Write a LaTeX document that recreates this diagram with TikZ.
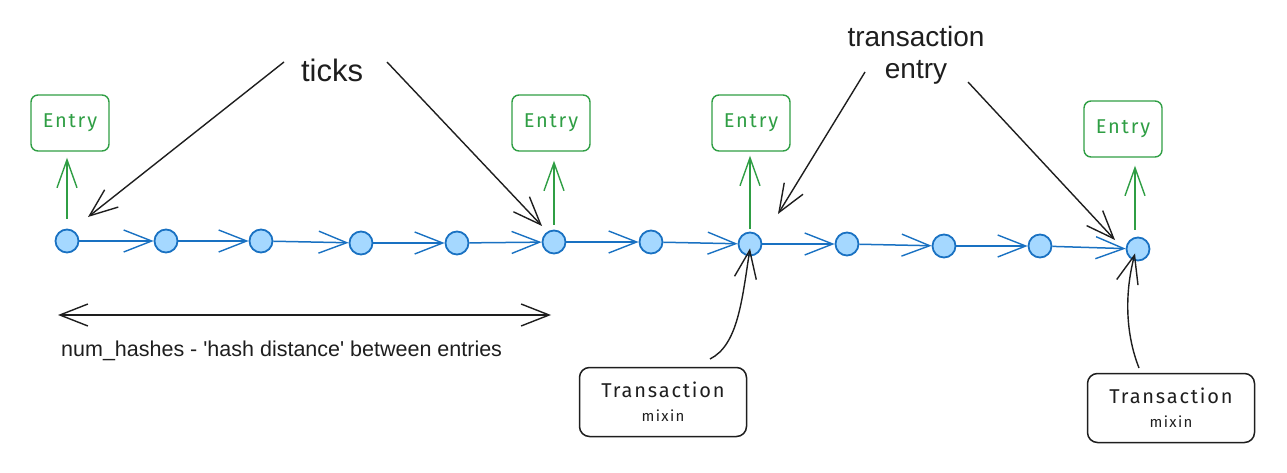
\documentclass[tikz,border=0pt]{standalone}
\usepackage{fontspec}
\setmainfont{Liberation Sans}
\newfontfamily\handfont{Fira Sans}[LetterSpace=9]
\usetikzlibrary{arrows.meta}
\definecolor{cblue}{HTML}{1971C2}
\definecolor{cfill}{HTML}{A5D8FF}
\definecolor{cgreen}{HTML}{2F9E44}
\definecolor{cblack}{HTML}{1E1E1E}
\tikzset{
  dot/.style={circle, draw=cblue, fill=cfill, line width=1.8pt, minimum size=23pt, inner sep=0pt},
  chain/.style={draw=cblue, line width=1.5pt, -{Straight Barb[length=28pt,width=22pt,line width=1.4pt]}},
  entrybox/.style={draw=cgreen, rounded corners=7pt, line width=1.4pt, minimum width=78pt, minimum height=56pt, text=cgreen, font=\handfont\fontsize{20}{22}\selectfont},
  garrow/.style={draw=cgreen, line width=1.4pt, -{Straight Barb[length=28pt,width=20pt,line width=1.4pt]}},
  karrow/.style={draw=cblack, line width=1.4pt, -{Straight Barb[length=28pt,width=22pt,line width=1.4pt]}},
  txbox/.style={draw=cblack, rounded corners=10pt, line width=1.5pt, minimum width=167pt, minimum height=69pt, align=center, text=cblack, font=\handfont\fontsize{20}{24}\selectfont},
  lbl/.style={text=cblack, align=center, inner sep=0pt},
}
\begin{document}
\begin{tikzpicture}[x=1pt,y=-1pt]
\useasboundingbox (0,0) rectangle (1287,473);
% chain dots
\node[dot] (c1) at (67,241) {};
\node[dot] (c2) at (166,241) {};
\node[dot] (c3) at (261,241) {};
\node[dot] (c4) at (361,243) {};
\node[dot] (c5) at (457,243) {};
\node[dot] (c6) at (554,242) {};
\node[dot] (c7) at (651,242) {};
\node[dot] (c8) at (750,244) {};
\node[dot] (c9) at (847,244) {};
\node[dot] (c10) at (944,246) {};
\node[dot] (c11) at (1040,246) {};
\node[dot] (c12) at (1138,249) {};
\foreach \a/\b in {c1/c2,c2/c3,c3/c4,c4/c5,c5/c6,c6/c7,c7/c8,c8/c9,c9/c10,c10/c11,c11/c12}
  \draw[chain] (\a) -- (\b);
% entry boxes
\node[entrybox] (e1) at (70,123) {Entry};
\node[entrybox] (e2) at (551,123) {Entry};
\node[entrybox] (e3) at (751,123) {Entry};
\node[entrybox] (e4) at (1123,129) {Entry};
\draw[garrow, shorten <=10pt, shorten >=6pt] (c1.north) -- (c1.north |- e1.south);
\draw[garrow, shorten <=5pt, shorten >=9pt] (c6.north) -- (c6.north |- e2.south);
\draw[garrow, shorten <=3pt, shorten >=4pt] (c8.north) -- (c8.north |- e3.south);
\draw[garrow, shorten <=7pt, shorten >=8pt] ([xshift=-3pt]c12.north) -- ([xshift=-3pt]c12.north |- e4.south);
% ticks
\node[lbl, font=\fontsize{31}{34}\selectfont] (ticks) at (332,70) {ticks};
\coordinate (t1s) at (284,62);
\coordinate (t1e) at (88,217);
\coordinate (t2s) at (387,62);
\coordinate (t2e) at (542,226);
\draw[karrow] (t1s) -- (t1e);
\draw[karrow] (t2s) -- (t2e);
% transaction entry
\node[lbl, font=\fontsize{28}{32}\selectfont] (txe) at (916,55) {transaction\\entry};
\coordinate (x1s) at (865,72);
\coordinate (x1e) at (778,214);
\coordinate (x2s) at (968,82);
\coordinate (x2e) at (1115,240);
\draw[karrow] (x1s) -- (x1e);
\draw[karrow] (x2s) -- (x2e);
% num_hashes
\coordinate (h1) at (58,315);
\coordinate (h2) at (551,315);
\draw[karrow, line width=2pt, {Straight Barb[length=28pt,width=22pt,line width=1.4pt]}-{Straight Barb[length=28pt,width=22pt,line width=1.4pt]}] (h1) -- (h2);
\node[lbl, font=\fontsize{21.5}{24}\selectfont, anchor=west] (nh) at (61,351) {num\_hashes - \textquotesingle hash distance\textquotesingle{} between entries};
% transaction mixin
\node[txbox] (m1) at (663,402) {Transaction\\[0pt]{\fontsize{15}{17}\selectfont mixin}};
\node[txbox] (m2) at (1171,408) {Transaction\\[0pt]{\fontsize{15}{17}\selectfont mixin}};
\coordinate (m1s) at (710,359);
\coordinate (m2s) at (1139,368);
\draw[karrow] (m1s) .. controls (738,345) and (742,300) .. ([yshift=8pt]c8.south);
\draw[karrow] (m2s) .. controls (1126,335) and (1124,295) .. ([xshift=-3pt,yshift=8pt]c12.south);
\end{tikzpicture}
\end{document}
